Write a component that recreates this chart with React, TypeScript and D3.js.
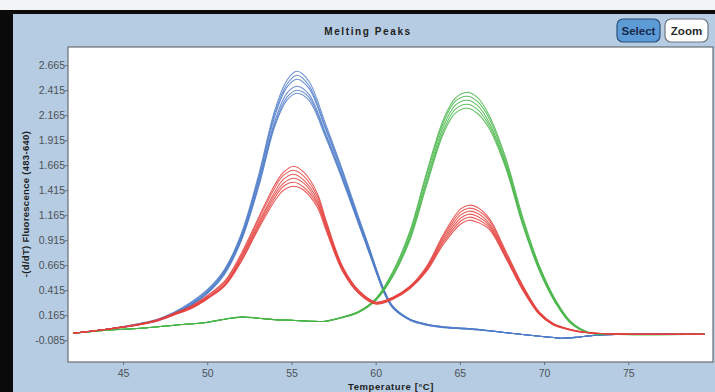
import React from "react";
import * as d3 from "d3";

// Melting-peak derivative curves, -(d/dT) fluorescence vs temperature (°C)

const xTickValues = [45, 50, 55, 60, 65, 70, 75];
const yTickValues = [-0.085, 0.165, 0.415, 0.665, 0.915, 1.165, 1.415, 1.665, 1.915, 2.165, 2.415, 2.665];

// Blue channel: single peak near 55 °C
const blueTemps = [42, 44, 46, 47, 48, 49, 50, 51, 52, 53, 54, 54.7, 55.3, 56, 57, 58, 59, 59.5, 60, 60.5, 61, 62, 63, 64, 66, 68, 70, 71, 72, 73, 75, 79.5];
const blueRuns = [
  [-0.01, 0.03, 0.09, 0.13, 0.2, 0.3, 0.43, 0.63, 0.99, 1.56, 2.23, 2.52, 2.61, 2.51, 2.08, 1.62, 1.13, 0.89, 0.64, 0.41, 0.26, 0.13, 0.08, 0.055, 0.03, -0.01, -0.045, -0.06, -0.05, -0.03, -0.02, -0.02],
  [-0.01, 0.03, 0.085, 0.125, 0.195, 0.29, 0.42, 0.62, 0.97, 1.53, 2.2, 2.48, 2.57, 2.47, 2.05, 1.6, 1.11, 0.88, 0.63, 0.41, 0.25, 0.13, 0.08, 0.05, 0.03, -0.01, -0.045, -0.06, -0.05, -0.03, -0.02, -0.02],
  [-0.01, 0.03, 0.085, 0.12, 0.19, 0.28, 0.41, 0.61, 0.96, 1.51, 2.17, 2.45, 2.53, 2.44, 2.03, 1.58, 1.1, 0.87, 0.62, 0.4, 0.25, 0.13, 0.08, 0.055, 0.03, -0.01, -0.045, -0.06, -0.05, -0.03, -0.02, -0.02],
  [-0.01, 0.03, 0.08, 0.12, 0.185, 0.275, 0.4, 0.6, 0.94, 1.48, 2.12, 2.39, 2.46, 2.38, 1.99, 1.55, 1.08, 0.85, 0.61, 0.39, 0.245, 0.125, 0.075, 0.05, 0.025, -0.01, -0.045, -0.06, -0.05, -0.03, -0.02, -0.02],
  [-0.01, 0.028, 0.08, 0.115, 0.18, 0.27, 0.395, 0.59, 0.93, 1.46, 2.09, 2.35, 2.42, 2.35, 1.97, 1.54, 1.07, 0.84, 0.6, 0.39, 0.24, 0.125, 0.075, 0.05, 0.025, -0.01, -0.045, -0.06, -0.05, -0.03, -0.02, -0.02],
  [-0.01, 0.028, 0.078, 0.113, 0.178, 0.265, 0.39, 0.58, 0.92, 1.44, 2.07, 2.32, 2.39, 2.32, 1.95, 1.52, 1.06, 0.83, 0.6, 0.38, 0.24, 0.12, 0.07, 0.045, 0.025, -0.01, -0.045, -0.06, -0.05, -0.03, -0.02, -0.02],
];

// Green channel: flat shoulder then a single peak near 65 °C
const greenTemps = [42, 44, 46, 48, 50, 51, 52, 53, 54, 55, 56, 57, 58, 59, 60, 61, 62, 63, 64, 64.7, 65.4, 66, 66.7, 67.7, 68.7, 69.7, 70.7, 71.6, 72.6, 74, 79.5];
const greenRuns = [
  [-0.01, 0.02, 0.04, 0.07, 0.1, 0.13, 0.155, 0.14, 0.125, 0.12, 0.11, 0.11, 0.15, 0.21, 0.34, 0.61, 1.01, 1.6, 2.13, 2.34, 2.4, 2.35, 2.17, 1.74, 1.15, 0.66, 0.31, 0.1, 0.0, -0.02, -0.02],
  [-0.01, 0.02, 0.04, 0.07, 0.1, 0.13, 0.15, 0.14, 0.125, 0.12, 0.11, 0.11, 0.15, 0.21, 0.335, 0.6, 0.99, 1.57, 2.1, 2.31, 2.36, 2.31, 2.14, 1.71, 1.13, 0.65, 0.3, 0.095, 0.0, -0.02, -0.02],
  [-0.01, 0.02, 0.04, 0.07, 0.1, 0.13, 0.155, 0.14, 0.125, 0.12, 0.11, 0.11, 0.15, 0.21, 0.33, 0.58, 0.96, 1.53, 2.06, 2.27, 2.32, 2.27, 2.1, 1.68, 1.1, 0.63, 0.29, 0.09, -0.005, -0.02, -0.02],
  [-0.01, 0.02, 0.04, 0.07, 0.1, 0.13, 0.15, 0.14, 0.125, 0.12, 0.11, 0.11, 0.15, 0.205, 0.325, 0.57, 0.94, 1.5, 2.02, 2.23, 2.28, 2.23, 2.07, 1.66, 1.09, 0.62, 0.28, 0.085, -0.005, -0.02, -0.02],
  [-0.01, 0.02, 0.04, 0.07, 0.1, 0.13, 0.15, 0.14, 0.125, 0.12, 0.11, 0.11, 0.145, 0.2, 0.32, 0.56, 0.92, 1.47, 1.99, 2.19, 2.24, 2.19, 2.04, 1.64, 1.07, 0.61, 0.28, 0.08, -0.005, -0.02, -0.02],
];

// Red channel: two peaks, near 55 °C and near 65.5 °C
const redTemps = [42, 44, 46, 47, 48, 49, 50, 51, 52, 53, 54, 54.5, 55.1, 55.7, 56.5, 57, 58, 59, 60, 61, 62, 63, 64, 65, 65.5, 66, 66.7, 67.7, 68.7, 69.7, 70.5, 71, 72, 73, 75, 79.5];
const redRuns = [
  [-0.01, 0.03, 0.085, 0.125, 0.19, 0.26, 0.37, 0.51, 0.79, 1.14, 1.48, 1.6, 1.66, 1.6, 1.39, 1.13, 0.66, 0.41, 0.3, 0.35, 0.46, 0.66, 0.98, 1.23, 1.27, 1.25, 1.14, 0.81, 0.47, 0.2, 0.09, 0.055, 0.01, -0.01, -0.02, -0.02],
  [-0.01, 0.03, 0.083, 0.123, 0.185, 0.255, 0.36, 0.5, 0.77, 1.12, 1.45, 1.57, 1.62, 1.56, 1.36, 1.11, 0.65, 0.41, 0.3, 0.35, 0.455, 0.65, 0.96, 1.2, 1.24, 1.22, 1.12, 0.79, 0.46, 0.19, 0.085, 0.05, 0.01, -0.01, -0.02, -0.02],
  [-0.01, 0.03, 0.08, 0.12, 0.18, 0.25, 0.35, 0.48, 0.75, 1.09, 1.41, 1.53, 1.58, 1.52, 1.33, 1.09, 0.64, 0.4, 0.29, 0.34, 0.45, 0.64, 0.94, 1.17, 1.21, 1.19, 1.09, 0.78, 0.45, 0.19, 0.08, 0.05, 0.01, -0.01, -0.02, -0.02],
  [-0.01, 0.03, 0.08, 0.118, 0.178, 0.245, 0.345, 0.475, 0.74, 1.07, 1.38, 1.49, 1.54, 1.49, 1.3, 1.07, 0.63, 0.39, 0.29, 0.34, 0.445, 0.63, 0.92, 1.14, 1.18, 1.16, 1.07, 0.76, 0.44, 0.18, 0.08, 0.05, 0.01, -0.01, -0.02, -0.02],
  [-0.01, 0.028, 0.078, 0.115, 0.175, 0.24, 0.34, 0.47, 0.72, 1.05, 1.35, 1.46, 1.5, 1.45, 1.28, 1.05, 0.62, 0.385, 0.285, 0.335, 0.44, 0.62, 0.9, 1.11, 1.15, 1.13, 1.05, 0.75, 0.43, 0.18, 0.075, 0.045, 0.005, -0.01, -0.02, -0.02],
  [-0.01, 0.028, 0.076, 0.113, 0.172, 0.235, 0.335, 0.46, 0.71, 1.03, 1.32, 1.42, 1.46, 1.42, 1.25, 1.03, 0.61, 0.38, 0.28, 0.33, 0.435, 0.61, 0.88, 1.08, 1.12, 1.1, 1.03, 0.74, 0.42, 0.175, 0.075, 0.045, 0.005, -0.01, -0.02, -0.02],
];

const W = 715;
const H = 392;
const plot = { left: 68, top: 47, right: 713, bottom: 362 };

const x = d3.scaleLinear().domain([41.7, 80]).range([plot.left, plot.right]);
const y = d3.scaleLinear().domain([-0.298, 2.852]).range([plot.bottom, plot.top]);

const lineGen = d3
  .line<[number, number]>()
  .x((d) => x(d[0]))
  .y((d) => y(d[1]))
  .curve(d3.curveCatmullRom.alpha(0.5));

function paths(temps: number[], runs: number[][]) {
  return runs.map((vals) => lineGen(temps.map((t, i) => [t, vals[i]] as [number, number])) || "");
}

const groups = [
  { color: "#4f7dc9", d: paths(blueTemps, blueRuns) },
  { color: "#47b548", d: paths(greenTemps, greenRuns) },
  { color: "#e4413d", d: paths(redTemps, redRuns) },
];

const labelFont = "'Liberation Sans', Arial, sans-serif";

export default function App() {
  return (
    <svg
      width={W}
      height={H}
      style={{ position: "absolute", left: 0, top: 0, display: "block" }}
      xmlns="http://www.w3.org/2000/svg"
    >
      <defs>
        <clipPath id="plotClip">
          <rect x={plot.left} y={plot.top} width={plot.right - plot.left} height={plot.bottom - plot.top} />
        </clipPath>
      </defs>

      {/* window frame */}
      <rect x={0} y={0} width={W} height={H} fill="#f2f3f4" />
      <rect x={0} y={10} width={W} height={H - 10} fill="#0a0a0a" />
      <rect x={13} y={14} width={W - 13} height={H - 14} fill="#b5cce2" />

      {/* title */}
      <text
        x={368}
        y={35}
        textAnchor="middle"
        fontFamily={labelFont}
        fontWeight="bold"
        fontSize={10}
        letterSpacing={1.6}
        fill="#1e1e1e"
      >
        Melting Peaks
      </text>

      {/* toolbar buttons */}
      <rect x={617} y={19} width={43} height={23} rx={6} fill="#5c9bd6" stroke="#2c4f78" strokeWidth={1.2} />
      <text x={638.5} y={35} textAnchor="middle" fontFamily={labelFont} fontWeight="bold" fontSize={11.5} fill="#17284a">
        Select
      </text>
      <rect x={665} y={19} width={43} height={23} rx={6} fill="#ffffff" stroke="#6f7880" strokeWidth={1.2} />
      <text x={686.5} y={35} textAnchor="middle" fontFamily={labelFont} fontWeight="bold" fontSize={11.5} fill="#2a2a2a">
        Zoom
      </text>

      {/* plot area */}
      <rect
        x={plot.left}
        y={plot.top}
        width={plot.right - plot.left}
        height={plot.bottom - plot.top}
        fill="#ffffff"
        stroke="#6a6e72"
        strokeWidth={1.2}
      />

      {/* y axis */}
      {yTickValues.map((v) => (
        <g key={"y" + v}>
          <line x1={plot.left - 3} x2={plot.left} y1={y(v)} y2={y(v)} stroke="#6a6e72" />
          <text
            x={plot.left - 3}
            y={y(v) + 3.5}
            textAnchor="end"
            fontFamily={labelFont}
            fontSize={10.5}
            fill="#4d5256"
          >
            {v.toFixed(3)}
          </text>
        </g>
      ))}

      {/* x axis */}
      {xTickValues.map((v) => (
        <g key={"x" + v}>
          <line x1={x(v)} x2={x(v)} y1={plot.bottom} y2={plot.bottom + 3} stroke="#6a6e72" />
          <text x={x(v)} y={377} textAnchor="middle" fontFamily={labelFont} fontSize={10.5} fill="#4d5256">
            {v}
          </text>
        </g>
      ))}

      <text
        x={391}
        y={390}
        textAnchor="middle"
        fontFamily={labelFont}
        fontWeight="bold"
        fontSize={9.5}
        letterSpacing={0.6}
        fill="#1e1e1e"
      >
        Temperature [°C]
      </text>
      <text
        transform={`translate(29,204) rotate(-90)`}
        textAnchor="middle"
        fontFamily={labelFont}
        fontWeight="bold"
        fontSize={9.5}
        letterSpacing={0.3}
        fill="#1e1e1e"
      >
        -(d/dT) Fluorescence (483-640)
      </text>

      {/* curves */}
      <g clipPath="url(#plotClip)">
        {groups.map((g, gi) => (
          <g key={gi} fill="none" stroke={g.color} strokeWidth={1.1} strokeOpacity={0.85}>
            {g.d.map((d, i) => (
              <path key={i} d={d} />
            ))}
          </g>
        ))}
      </g>
    </svg>
  );
}
